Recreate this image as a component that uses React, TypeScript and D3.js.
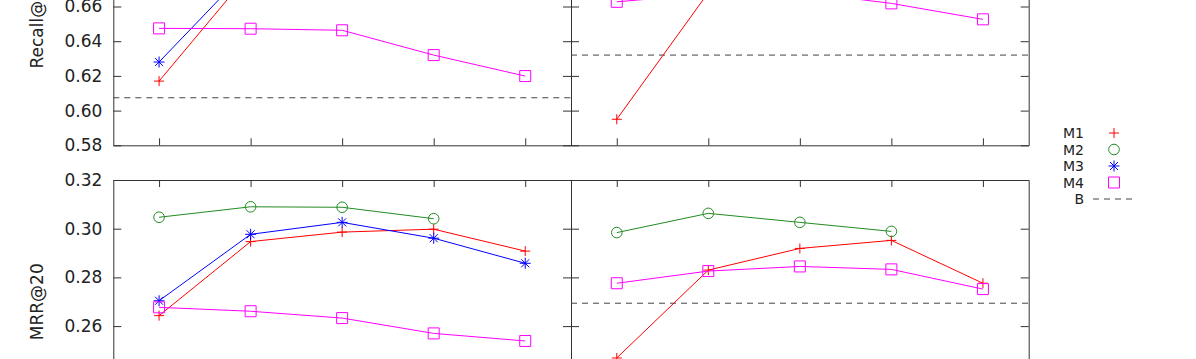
import { useEffect, useRef } from "react";
import * as d3 from "d3";

const xCats = [1, 2, 3, 4, 5];
const recallTicks = [0.58, 0.6, 0.62, 0.64, 0.66, 0.68, 0.7, 0.72];
const mrrTicks = [0.22, 0.24, 0.26, 0.28, 0.3, 0.32];

const seriesNames = ["M1", "M2", "M3", "M4"];
const seriesColors = ["#ff0000", "#228b22", "#0000ff", "#ff00ff"];

// Recall@20, left block
const recallLeftM1 = [0.617, 0.68, 0.69, 0.692, 0.685];
const recallLeftM2 = [0.7, 0.705, 0.706, 0.703];
const recallLeftM3 = [0.628, 0.683, 0.692, 0.69, 0.682];
const recallLeftM4 = [0.6474, 0.6472, 0.6463, 0.632, 0.6199];
const recallLeftBase = 0.6074;

// Recall@20, right block
const recallRightM1 = [0.595, 0.668, 0.68, 0.684, 0.675];
const recallRightM2 = [0.69, 0.7, 0.698, 0.695];
const recallRightM4 = [0.6627, 0.6672, 0.6683, 0.6618, 0.6526];
const recallRightBase = 0.632;

// MRR@20, left block
const mrrLeftM1 = [0.2643, 0.2947, 0.2986, 0.2998, 0.2908];
const mrrLeftM2 = [0.3047, 0.309, 0.3088, 0.3041];
const mrrLeftM3 = [0.2704, 0.2977, 0.3026, 0.2961, 0.2858];
const mrrLeftM4 = [0.2677, 0.2661, 0.2633, 0.257, 0.2539];
const mrrLeftBase = 0.2435;

// MRR@20, right block
const mrrRightM1 = [0.2469, 0.283, 0.2919, 0.2952, 0.2776];
const mrrRightM2 = [0.2984, 0.3063, 0.3026, 0.2989];
const mrrRightM4 = [0.2776, 0.2826, 0.2845, 0.2833, 0.2752];
const mrrRightBase = 0.2694;

const FONT = "DejaVu Sans, sans-serif";

const markerPath = (name: string) => {
  if (name === "M1") return "M-5,0H5M0,-5V5";
  if (name === "M3") return "M-5.5,0H5.5M0,-5.5V5.5M-4,-4L4,4M-4,4L4,-4";
  if (name === "M4") return "M-5.5,-5.5H5.5V5.5H-5.5Z";
  return "M5.3,0A5.3,5.3 0 1,1 -5.3,0A5.3,5.3 0 1,1 5.3,0Z";
};

export default function App() {
  const svgRef = useRef<SVGSVGElement>(null);

  useEffect(() => {
    const svg = d3.select(svgRef.current);
    svg.selectAll("*").remove();

    const leftRange: [number, number] = [113.3, 571];
    const rightRange: [number, number] = [571, 1028.7];
    const topYRange: [number, number] = [145.3, -97.6];
    const botYRange: [number, number] = [423.5, 180];

    const panels = [
      {
        xr: leftRange, yr: topYRange, dom: [0.58, 0.72], ticks: recallTicks, labels: true,
        series: [recallLeftM1, recallLeftM2, recallLeftM3, recallLeftM4], base: recallLeftBase,
      },
      {
        xr: rightRange, yr: topYRange, dom: [0.58, 0.72], ticks: recallTicks, labels: false,
        series: [recallRightM1, recallRightM2, null, recallRightM4], base: recallRightBase,
      },
      {
        xr: leftRange, yr: botYRange, dom: [0.22, 0.32], ticks: mrrTicks, labels: true,
        series: [mrrLeftM1, mrrLeftM2, mrrLeftM3, mrrLeftM4], base: mrrLeftBase,
      },
      {
        xr: rightRange, yr: botYRange, dom: [0.22, 0.32], ticks: mrrTicks, labels: false,
        series: [mrrRightM1, mrrRightM2, null, mrrRightM4], base: mrrRightBase,
      },
    ];

    panels.forEach((p) => {
      const x = d3.scaleLinear().domain([0.5, 5.5]).range(p.xr);
      const y = d3.scaleLinear().domain(p.dom).range(p.yr);

      const styleAxis = (g: any) => {
        g.selectAll("path, line").attr("stroke", "#333").attr("stroke-width", 1);
        g.selectAll("text")
          .attr("fill", "#222")
          .style("font-family", FONT)
          .style("font-size", "17px");
      };

      svg
        .append("g")
        .attr("transform", `translate(${p.xr[0]},0)`)
        .call(
          d3
            .axisLeft(y)
            .tickValues(p.ticks)
            .tickSizeInner(-8)
            .tickSizeOuter(0)
            .tickPadding(11)
            .tickFormat((d: any) => (p.labels ? d3.format(".2f")(d) : ""))
        )
        .call(styleAxis);

      svg
        .append("g")
        .attr("transform", `translate(${p.xr[1]},0)`)
        .call(d3.axisRight(y).tickValues(p.ticks).tickSizeInner(-8).tickSizeOuter(0).tickFormat(() => ""))
        .call(styleAxis);

      svg
        .append("g")
        .attr("transform", `translate(0,${p.yr[0]})`)
        .call(d3.axisBottom(x).tickValues(xCats).tickSizeInner(-7).tickSizeOuter(0).tickFormat(() => ""))
        .call(styleAxis);

      svg
        .append("g")
        .attr("transform", `translate(0,${p.yr[1]})`)
        .call(d3.axisTop(x).tickValues(xCats).tickSizeInner(-7).tickSizeOuter(0).tickFormat(() => ""))
        .call(styleAxis);

      // baseline
      svg
        .append("line")
        .attr("x1", p.xr[0])
        .attr("x2", p.xr[1])
        .attr("y1", y(p.base))
        .attr("y2", y(p.base))
        .attr("stroke", "#444")
        .attr("stroke-width", 1)
        .attr("stroke-dasharray", "6,5");

      const line = d3
        .line<number>()
        .x((_, i) => x(xCats[i]))
        .y((d) => y(d));

      p.series.forEach((vals, si) => {
        if (!vals) return;
        const color = seriesColors[si];
        svg
          .append("path")
          .datum(vals)
          .attr("fill", "none")
          .attr("stroke", color)
          .attr("stroke-width", 1)
          .attr("d", line);

        svg
          .selectAll(null)
          .data(vals)
          .enter()
          .append("path")
          .attr("transform", (d, i) => `translate(${x(xCats[i])},${y(d)})`)
          .attr("d", markerPath(seriesNames[si]))
          .attr("fill", "none")
          .attr("stroke", color)
          .attr("stroke-width", 1);
      });
    });

    // y axis titles
    const titles = [
      { text: "Recall@20", cy: (topYRange[0] + topYRange[1]) / 2 },
      { text: "MRR@20", cy: (botYRange[0] + botYRange[1]) / 2 },
    ];
    titles.forEach((t) => {
      svg
        .append("text")
        .attr("transform", `translate(37,${t.cy}) rotate(-90)`)
        .attr("text-anchor", "middle")
        .attr("dominant-baseline", "central")
        .attr("fill", "#222")
        .style("font-family", FONT)
        .style("font-size", "17px")
        .text(t.text);
    });

    // legend
    const legendY = d3.scalePoint<string>().domain([...seriesNames, "B"]).range([133, 199]);
    seriesNames.forEach((name, i) => {
      svg
        .append("text")
        .attr("x", 1084)
        .attr("y", legendY(name)!)
        .attr("text-anchor", "end")
        .attr("dominant-baseline", "central")
        .attr("fill", "#222")
        .style("font-family", FONT)
        .style("font-size", "14px")
        .text(name);
      svg
        .append("path")
        .attr("transform", `translate(1114,${legendY(name)})`)
        .attr("d", markerPath(name))
        .attr("fill", "none")
        .attr("stroke", seriesColors[i])
        .attr("stroke-width", 1);
    });
    svg
      .append("text")
      .attr("x", 1084)
      .attr("y", legendY("B")!)
      .attr("text-anchor", "end")
      .attr("dominant-baseline", "central")
      .attr("fill", "#222")
      .style("font-family", FONT)
      .style("font-size", "14px")
      .text("B");
    svg
      .append("line")
      .attr("x1", 1093)
      .attr("x2", 1132)
      .attr("y1", legendY("B")!)
      .attr("y2", legendY("B")!)
      .attr("stroke", "#444")
      .attr("stroke-width", 1)
      .attr("stroke-dasharray", "6,5");
  }, []);

  return (
    <svg
      ref={svgRef}
      width={1196}
      height={359}
      style={{ position: "absolute", left: 0, top: 0, background: "#fff" }}
    ></svg>
  );
}
